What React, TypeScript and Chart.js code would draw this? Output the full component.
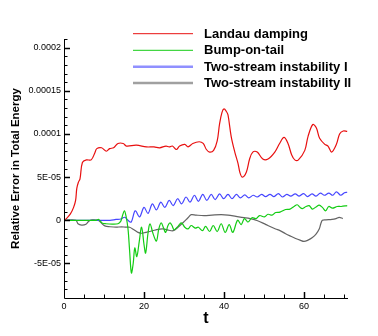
import React, { useEffect, useRef } from 'react';
import { Chart, registerables } from 'chart.js';

Chart.register(...registerables);

// values in units of 1e-5
const UNIT = 1e-5;

const landauT = [0, 0.6, 1.6, 2.4, 2.9, 3.2, 3.6, 4.0, 4.6, 5.6, 6.8, 7.7, 8.2, 9.4, 10.6, 11.4, 12.4, 13.5, 14.8, 15.6, 18.1, 20.6, 22.5, 23.9, 25.5, 26.3, 27.1, 28.1, 28.9, 30.2, 31.0, 32.2, 33.8, 34.8, 35.6, 36.4, 37.4, 38.3, 38.9, 39.5, 40.0, 40.6, 41.0, 41.8, 42.7, 43.5, 44.0, 44.6, 45.6, 46.4, 47.2, 48.3, 49.7, 51.0, 52.7, 53.9, 55.0, 56.0, 56.9, 57.7, 58.6, 60.2, 61.0, 62.2, 63.1, 63.9, 65.2, 66.0, 66.9, 68.1, 68.9, 69.8, 70.8];
const landauV = [0, 0.2, 0.74, 1.5, 2.3, 3.7, 4.4, 4.8, 6.7, 7.0, 7.0, 7.8, 8.3, 8.4, 8.0, 8.3, 8.4, 8.9, 8.9, 8.6, 8.7, 8.5, 8.5, 8.4, 8.6, 8.5, 8.6, 8.2, 8.6, 8.8, 8.5, 8.9, 9.1, 8.9, 8.2, 7.9, 8.1, 9.2, 11.2, 12.5, 12.9, 12.6, 12.2, 9.7, 7.9, 6.6, 5.5, 5.0, 5.6, 7.1, 7.9, 7.9, 7.1, 7.1, 7.9, 8.9, 9.6, 8.9, 7.6, 7.0, 7.0, 8.1, 9.7, 11.1, 10.7, 9.5, 8.8, 8.6, 7.9, 8.8, 10.0, 10.35, 10.3];

const bumpT = [0, 5, 8, 8.7, 9.5, 10.5, 12, 13.5, 14.2, 14.6, 15.1, 15.5, 16.0, 16.4, 16.85, 17.3, 17.7, 18.2, 18.8, 19.4, 20.0, 20.4, 21.0, 21.5, 22.3, 23.1, 23.7, 24.3, 24.9, 25.4, 26.0, 26.5, 27.0, 27.5, 28.3, 29.2, 29.6, 30.2, 31.0, 31.8, 32.8, 33.6, 34.6, 35.4, 36.4, 37.3, 38.3, 39.3, 40.3, 41.3, 42.2, 43.4, 44.3, 45.1, 46.0, 47.0, 48.0, 48.9, 50.1, 51, 52, 52.9, 54, 55.4, 56.5, 57.5, 58.3, 59.0, 59.6, 60.5, 61.3, 62.1, 63, 63.8, 64.6, 65.4, 66.2, 67.1, 68.3, 69.3, 70.8];
const bumpV = [0, 0, 0, 0.1, -0.3, -0.4, -0.45, -0.4, -0.1, 0.5, 1.1, 0.5, -1.0, -3.5, -6.1, -5.0, -3.2, -4.2, -2.5, -0.8, -2.8, -3.8, -1.5, -0.4, -1.6, -2.4, -1.0, -0.3, -0.9, -1.4, -0.6, -0.3, -0.6, -1.1, -0.8, -0.3, -0.4, -0.8, -1.0, -0.6, -0.9, -0.8, -1.2, -0.7, -1.3, -0.6, -1.3, -0.4, -1.4, -0.5, -1.4, 0.0, -0.5, 0.2, -0.2, 0.3, 0.2, 0.55, 0.4, 0.7, 0.6, 0.9, 0.95, 1.25, 1.3, 1.6, 1.8, 1.5, 1.35, 1.6, 1.7, 1.3, 1.55, 1.75, 1.5, 1.1, 1.6, 1.4, 1.6, 1.6, 1.7];

const twoStreamIT = [0, 11.5, 13, 14.2, 15.2, 16.0, 16.8, 17.8, 18.9, 20.0, 21.0, 22.1, 23.1, 24.2, 25.2, 26.3, 27.3, 28.4, 29.4, 30.5, 31.5, 32.6, 33.6, 34.7, 35.7, 36.8, 37.8, 38.9, 39.9, 41.0, 42.0, 43.1, 44.1, 45.2, 46.2, 47.3, 48.3, 49.4, 50.4, 51.5, 52.5, 53.6, 54.6, 55.7, 56.7, 57.8, 58.8, 59.9, 60.9, 62.0, 63.0, 64.1, 65.1, 66.2, 67.2, 68.1, 69.2, 70.1, 70.8];
const twoStreamIV = [0, 0, 0.1, 0.15, 0.35, 0.0, -0.2, 1.1, 0.4, 1.5, 0.8, 1.9, 1.2, 2.1, 1.5, 2.3, 1.7, 2.5, 1.9, 2.7, 2.1, 2.9, 2.2, 3.0, 2.3, 3.0, 2.4, 3.05, 2.5, 3.0, 2.5, 3.0, 2.6, 2.95, 2.6, 2.9, 2.7, 3.0, 2.75, 3.0, 2.75, 3.1, 2.7, 3.0, 2.8, 3.05, 2.8, 3.1, 2.75, 3.05, 2.8, 3.15, 2.9, 3.15, 2.9, 3.3, 2.9, 3.2, 3.25];

const twoStreamIIT = [0, 3.0, 3.5, 4.4, 5.5, 6.2, 7, 8.5, 9.3, 10.2, 11.5, 13, 14.4, 15.5, 16.4, 17.5, 18.5, 19.4, 20.4, 21.4, 23, 24.7, 26.2, 27.3, 28.5, 29.8, 31, 31.8, 33, 35, 37, 39.3, 41, 43, 45, 46, 48.4, 50.5, 52.9, 54, 55.4, 56.5, 57.9, 59, 60, 61, 62.1, 63, 63.8, 64.2, 64.6, 65.5, 67, 68.0, 68.8, 69.7];
const twoStreamIIV = [0, 0, -0.4, -0.55, -0.45, -0.1, 0.05, 0, -0.3, -0.65, -0.75, -0.8, -0.75, -0.8, -0.8, -1.1, -1.4, -1.5, -1.4, -1.3, -1.1, -1.0, -1.15, -1.2, -0.8, -0.25, 0.3, 0.65, 0.6, 0.55, 0.6, 0.65, 0.6, 0.45, 0.3, 0.25, -0.05, -0.5, -1.0, -1.2, -1.55, -1.8, -2.1, -2.3, -2.45, -2.3, -2.0, -1.6, -1.0, -0.4, 0.0, 0.05, 0.1, 0.2, 0.35, 0.2];

const seriesNames = ['Landau damping', 'Bump-on-tail', 'Two-stream instability I', 'Two-stream instability II'];
const seriesColors = ['#e81010', '#14cc14', '#4646ff', '#646464'];
const legendColors = ['#e81010', '#14cc14', '#9090ff', '#a0a0a0'];
const legendWidths = [1, 1, 2.5, 2.5];

const xTickValues = [0, 20, 40, 60];
const xTickLabels = ['0', '20', '40', '60'];
const yTickValues = [-5e-5, 0, 5e-5, 1e-4, 1.5e-4, 2e-4];
const yTickLabels = ['-5E-05', '0', '5E-05', '0.0001', '0.00015', '0.0002'];

const X_MIN = 0;
const X_MAX = 71;
const Y_MIN = -9e-5;
const Y_MAX = 2.1e-4;

const FONT = "'Liberation Sans', Arial, sans-serif";

const toPoints = (ts: number[], vs: number[]) => ts.map((t, i) => ({ x: t, y: vs[i] * UNIT }));

const decorPlugin = {
  id: 'decor',
  afterDraw(chart: any) {
    const { ctx, chartArea, scales } = chart;
    const xs = scales.x;
    const ys = scales.y;
    ctx.save();
    ctx.strokeStyle = '#000';
    ctx.lineWidth = 1;
    // axis lines
    ctx.beginPath();
    ctx.moveTo(chartArea.left + 0.5, chartArea.top);
    ctx.lineTo(chartArea.left + 0.5, chartArea.bottom + 0.5);
    ctx.lineTo(chartArea.right, chartArea.bottom + 0.5);
    ctx.stroke();
    // x ticks (inward)
    for (let v = 5; v <= 70; v += 5) {
      const px = Math.round(xs.getPixelForValue(v)) + 0.5;
      const major = v % 20 === 0;
      const len = major ? 6 : 3.5;
      ctx.lineWidth = major ? 1.5 : 1;
      ctx.beginPath();
      ctx.moveTo(px, chartArea.bottom);
      ctx.lineTo(px, chartArea.bottom - len);
      ctx.stroke();
    }
    // y ticks (inward)
    for (let k = -8; k <= 21; k++) {
      const v = k * 1e-5;
      const py = Math.round(ys.getPixelForValue(v)) + 0.5;
      const major = k % 5 === 0;
      const len = major ? 6 : 3.5;
      ctx.lineWidth = major ? 1.5 : 1;
      ctx.beginPath();
      ctx.moveTo(chartArea.left, py);
      ctx.lineTo(chartArea.left + len, py);
      ctx.stroke();
    }
    // legend
    const rowY = [33.7, 50.3, 66.7, 83];
    ctx.font = `bold 13px ${FONT}`;
    ctx.textBaseline = 'middle';
    ctx.textAlign = 'left';
    seriesNames.forEach((name, i) => {
      ctx.strokeStyle = legendColors[i];
      ctx.lineWidth = legendWidths[i];
      ctx.beginPath();
      ctx.moveTo(133, rowY[i]);
      ctx.lineTo(193, rowY[i]);
      ctx.stroke();
      ctx.fillStyle = '#000';
      ctx.fillText(name, 204, rowY[i] + 0.5);
    });
    ctx.restore();
  },
};

export default function App() {
  const canvasRef = useRef<HTMLCanvasElement | null>(null);

  useEffect(() => {
    const canvas = canvasRef.current;
    if (!canvas) return;
    const seriesT = [landauT, bumpT, twoStreamIT, twoStreamIIT];
    const seriesV = [landauV, bumpV, twoStreamIV, twoStreamIIV];
    const chart = new Chart(canvas, {
      type: 'line',
      data: {
        datasets: seriesNames.map((name, i) => ({
          label: name,
          data: toPoints(seriesT[i], seriesV[i]),
          borderColor: seriesColors[i],
          backgroundColor: seriesColors[i],
          borderWidth: 1.2,
          pointRadius: 0,
          tension: 0.35,
          fill: false,
        })),
      },
      options: {
        responsive: false,
        animation: false,
        devicePixelRatio: 1,
        layout: { padding: { top: 39, right: 30, left: 0, bottom: 0 } },
        plugins: { legend: { display: false }, tooltip: { enabled: false } },
        scales: {
          x: {
            type: 'linear',
            min: X_MIN,
            max: X_MAX,
            grid: { display: false, drawTicks: false },
            border: { display: false },
            afterBuildTicks: (s: any) => {
              s.ticks = xTickValues.map((v) => ({ value: v }));
            },
            afterFit: (s: any) => {
              s.height = 38;
            },
            ticks: {
              callback: (_v: any, i: number) => xTickLabels[i],
              font: { family: FONT, size: 9 },
              color: '#000',
              padding: 3,
              maxRotation: 0,
              autoSkip: false,
            },
            title: {
              display: true,
              text: 't',
              font: { family: FONT, size: 16, weight: 'bold' },
              color: '#000',
              padding: { top: 0, bottom: 8 },
            },
          },
          y: {
            type: 'linear',
            min: Y_MIN,
            max: Y_MAX,
            grid: { display: false, drawTicks: false },
            border: { display: false },
            afterBuildTicks: (s: any) => {
              s.ticks = yTickValues.map((v) => ({ value: v }));
            },
            afterFit: (s: any) => {
              s.width = 64;
            },
            ticks: {
              callback: (_v: any, i: number) => yTickLabels[i],
              font: { family: FONT, size: 9 },
              color: '#000',
              padding: 3,
              autoSkip: false,
            },
            title: {
              display: true,
              text: 'Relative Error in Total Energy',
              font: { family: FONT, size: 11.5, weight: 'bold' },
              color: '#000',
              padding: { top: 9, bottom: 0 },
            },
          },
        },
      },
      plugins: [decorPlugin],
    } as any);
    return () => chart.destroy();
  }, []);

  return (
    <div style={{ position: 'absolute', left: 0, top: 0, width: 378, height: 336, background: '#fff' }}>
      <canvas ref={canvasRef} width={378} height={336} style={{ width: 378, height: 336 }} />
    </div>
  );
}
